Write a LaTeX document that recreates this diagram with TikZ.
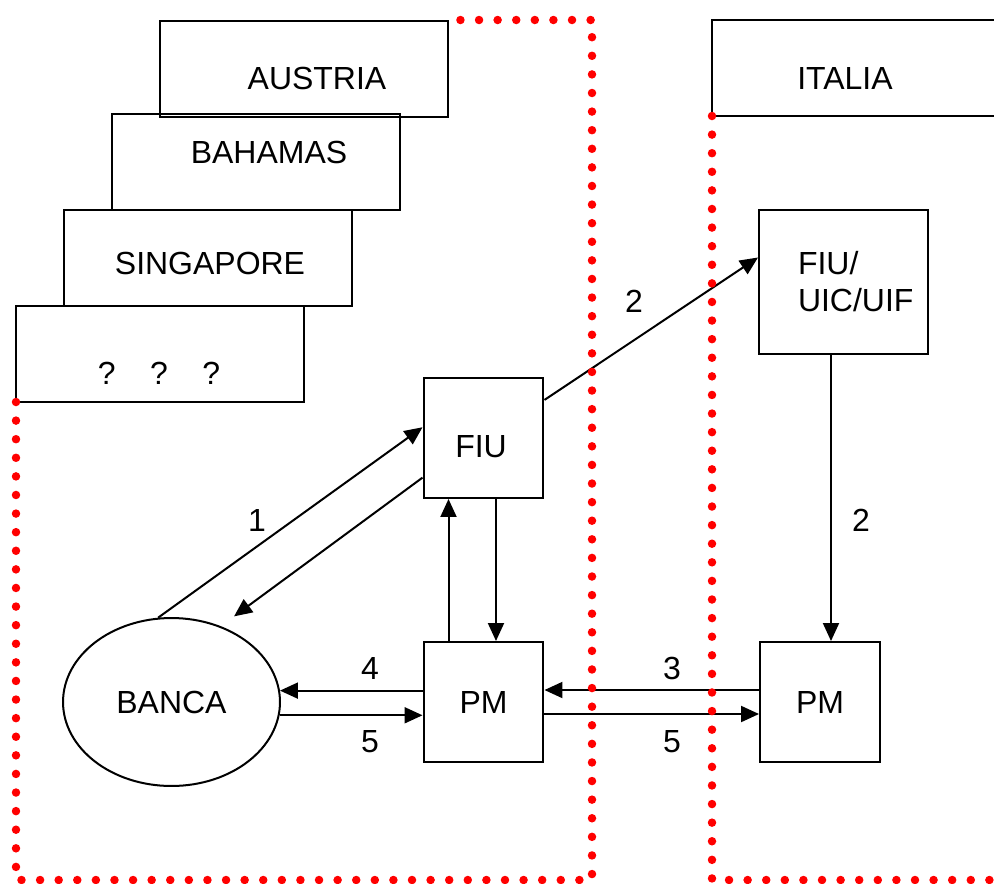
\documentclass[tikz,border=0pt]{standalone}
\usepackage{fontspec}
\setmainfont{Liberation Sans}
\usetikzlibrary{arrows.meta, positioning, shapes.geometric, calc}

\begin{document}
\begin{tikzpicture}[x=0.02cm, y=-0.02cm, line width=0.04cm,
    font=\fontsize{18.2}{21}\selectfont,
    cbox/.style={draw, minimum width=5.76cm, minimum height=1.92cm},
    sbox/.style={draw, minimum width=2.4cm, minimum height=2.4cm},
    txt/.style={inner sep=0pt},
    arr/.style={-{Triangle[length=0.36cm, width=0.32cm]}},
    border/.style={draw=red, line width=0.17cm, line cap=round, dash pattern=on 0pt off 0.372cm}]
    \clip (0,0) rectangle (994,883);

    % Country boxes
    \node[cbox] (austria) at (304,69) {};
    \node[cbox] (bahamas) at (256,162) {};
    \node[cbox] (singapore) at (208,258) {};
    \node[cbox] (unknown) at (160,354) {};
    \node[cbox, minimum width=6cm] (italia) at (862,68) {};

    \node[txt] (austriaT) at (317,78.5) {AUSTRIA};
    \node[txt] (bahamasT) at (269,152) {BAHAMAS};
    \node[txt] (singaporeT) at (210,263) {SINGAPORE};
    \node[txt] (unknownT) at (159,373) {?\hspace{0.69cm}?\hspace{0.69cm}?};
    \node[txt] (italiaT) at (845,78.5) {ITALIA};

    % Offices
    \node[sbox] (fiu) at (483.5,438) {};
    \node[txt] (fiuT) at (481,447) {FIU};
    \node[draw, minimum width=3.38cm, minimum height=2.88cm] (fiuit) at (843.5,282) {};
    \node[txt, anchor=west, align=left] (fiuitT) at (797,282) {FIU/\\UIC/UIF};
    \node[sbox] (pml) at (483.5,702) {PM};
    \node[sbox] (pmr) at (820,702) {PM};
    \node[draw, ellipse, inner sep=0pt, minimum width=4.34cm, minimum height=3.36cm] (banca) at (171.5,702) {BANCA};

    % Arrows
    \draw[arr] (banca.99) -- (fiu.170);
    \draw[arr, shorten >=0.33cm] (fiu.213) -- (banca.57);
    \draw[arr] (fiu.32) -- (fiuit.164);
    \coordinate (drop) at ($(pmr.north)+(11,0)$);
    \draw[arr] (drop |- fiuit.south) -- (drop);
    \draw[arr] ([xshift=-0.7cm]pml.north) -- ([xshift=-0.7cm]fiu.south);
    \draw[arr] ([xshift=0.25cm]fiu.south) -- ([xshift=0.25cm]pml.north);
    \draw[arr] (pml.west |- banca.6.4) -- (banca.6.4);
    \draw[arr] (banca.353.6) -- (banca.353.6 -| pml.west);
    \draw[arr] ([yshift=0.24cm]pmr.west) -- ([yshift=0.24cm]pml.east);
    \draw[arr] ([yshift=-0.24cm]pml.east) -- ([yshift=-0.24cm]pmr.west);

    % Step numbers
    \node[txt] (n1) at (257,520) {1};
    \node[txt] (n2a) at (634,301) {2};
    \node[txt] (n2b) at (861,520) {2};
    \node[txt] (n4) at (370,668) {4};
    \node[txt] (n5a) at (370,742) {5};
    \node[txt] (n3) at (672,668) {3};
    \node[txt] (n5b) at (672,742) {5};

    % Borders
    \draw[border] (16,402) -- (16,880) -- (592,880) -- (592,20) -- (460,20);
    \draw[border] (712,116) -- (712,880) -- (1000,880);
\end{tikzpicture}
\end{document}
